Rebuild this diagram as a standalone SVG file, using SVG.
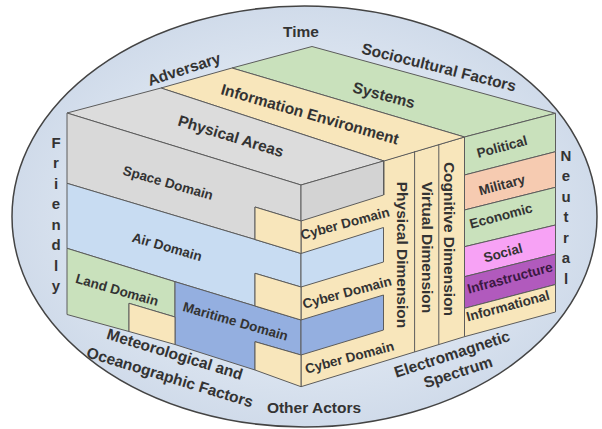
<svg xmlns="http://www.w3.org/2000/svg" width="602" height="429" viewBox="0 0 602 429">
<defs>
<radialGradient id="ringfill" cx="50%" cy="50%" r="50%">
<stop offset="0.55" stop-color="#e1e9f3"/>
<stop offset="1" stop-color="#d0dbea"/>
</radialGradient>
</defs>
<style>
.f{stroke:#5c5c5c;stroke-width:1;stroke-linejoin:round}
.gray{fill:#d9d9d9}.grayt{fill:#dcdcdc}.grays{fill:#d3d3d3}
.yel{fill:#f8e6bb}.grn{fill:#c9e1bc}.air{fill:#c8dcf2}.mar{fill:#94afe0}
.mil{fill:#f6cbb1}.soc{fill:#f7a2f5}.inf{fill:#b15abd}
text{font-family:"Liberation Sans",Arial,Helvetica,sans-serif;font-weight:bold;fill:#333;text-anchor:middle;dominant-baseline:central}
.r{font-size:15.5px}.d{font-size:13.5px}.dim{font-size:15.5px}.lt{font-size:15px}
</style>
<rect width="602" height="429" fill="#ffffff"/>
<g id="operational-environment">
<ellipse cx="304.5" cy="216.5" rx="292.5" ry="210.5" fill="url(#ringfill)" stroke="#444" stroke-width="1.5"/>
<text class="r" x="301" y="31">Time</text>
<text class="r" transform="translate(184,69) rotate(-18)">Adversary</text>
<text class="r" transform="translate(439,67) rotate(14)">Sociocultural Factors</text>
<text class="r" transform="translate(175,354) rotate(17)">Meteorological and</text>
<text class="r" transform="translate(170,377) rotate(17)">Oceanographic Factors</text>
<text class="r" x="314" y="407">Other Actors</text>
<text class="r" transform="translate(452,354) rotate(-18)">Electromagnetic</text>
<text class="r" transform="translate(458,372) rotate(-18)">Spectrum</text>
</g>
<g id="friendly">
<text class="lt" x="56" y="142">F</text><text class="lt" x="56" y="162.5">r</text><text class="lt" x="56" y="183">i</text><text class="lt" x="56" y="203.5">e</text><text class="lt" x="56" y="224">n</text><text class="lt" x="56" y="244.5">d</text><text class="lt" x="56" y="265">l</text><text class="lt" x="56" y="285.5">y</text>
</g>
<g id="neutral">
<text class="lt" x="566" y="155">N</text><text class="lt" x="566" y="175.5">e</text><text class="lt" x="566" y="196">u</text><text class="lt" x="566" y="216.5">t</text><text class="lt" x="566" y="237">r</text><text class="lt" x="566" y="257.5">a</text><text class="lt" x="566" y="278">l</text>
</g>
<g id="dimensions">
<polygon class="f yel" points="301,185 464.5,137 464.5,336.7 301,386.7"/>
<text class="dim" transform="translate(402.5,255) rotate(90)">Physical Dimension</text>
<text class="dim" transform="translate(427.5,247.5) rotate(90)">Virtual Dimension</text>
<text class="dim" transform="translate(449.5,239) rotate(90)">Cognitive Dimension</text>
</g>
<g id="top-faces">
<polygon class="f grn" points="232,68 312,46.5 555.5,113.3 464.5,137"/>
<polygon class="f yel" points="161,88 232,68 464.5,137 384,161"/>
<polygon class="f grayt" points="67,113 161,88 384,161 301,185"/>
<text class="r" transform="translate(384,95) rotate(15)">Systems</text>
<text class="r" transform="translate(310,114) rotate(16)">Information Environment</text>
<text class="r" transform="translate(231,136) rotate(17)">Physical Areas</text>
</g>
<g id="space-domain">
<polygon class="f gray" points="67,113 301,185 301,221 255,207 255,239.5 67,183.3"/>
<polygon class="f grays" points="301,185 383.5,161 383.5,195 301,221"/>
<text class="d" transform="translate(168,183) rotate(16)">Space Domain</text>
</g>
<g id="air-domain">
<polygon class="f air" points="67,183.3 255,239.5 301,253.5 301,287 255,273.3 255,306 175,281.7 67,248.3"/>
<polygon class="f air" points="301,253.5 383.5,227.5 383.5,262 301,287"/>
<text class="d" transform="translate(167,247) rotate(16)">Air Domain</text>
</g>
<g id="land-domain">
<polygon class="f grn" points="67,248.3 175,281.7 175,317 129,303.3 129,331.5 67,314.5"/>
<text class="d" transform="translate(117,290) rotate(16)">Land Domain</text>
</g>
<g id="maritime-domain">
<polygon class="f mar" points="175,281.7 301,320 301,355 255,341.7 255,370 175,344.5"/>
<polygon class="f mar" points="301,320 383.5,295 383.5,330 301,355"/>
<text class="d" transform="translate(235.5,321.5) rotate(16)">Maritime Domain</text>
</g>
<g id="cyber-domain">
<polygon class="f yel" points="255,207 301,221 301,253.5 255,239.5"/>
<polygon class="f yel" points="255,273.3 301,287 301,320 255,306"/>
<polygon class="f yel" points="129,303.3 175,317 175,344.5 129,331.5"/>
<polygon class="f yel" points="255,341.7 301,355 301,386.7 255,370"/>
<text class="d" transform="translate(345,223.5) rotate(-15)">Cyber Domain</text>
<text class="d" transform="translate(347,292.5) rotate(-15)">Cyber Domain</text>
<text class="d" transform="translate(349.5,357.5) rotate(-15)">Cyber Domain</text>
</g>
<g id="pmesii">
<polygon class="f grn" points="464.5,137 555.5,113.3 555.5,151.7 464.5,175"/>
<polygon class="f mil" points="464.5,175 555.5,151.7 555.5,187.3 464.5,210"/>
<polygon class="f grn" points="464.5,210 555.5,187.3 555.5,225 464.5,246.7"/>
<polygon class="f soc" points="464.5,246.7 555.5,225 555.5,254 464.5,276.7"/>
<polygon class="f inf" points="464.5,276.7 555.5,254 555.5,284.5 464.5,308.3"/>
<polygon class="f yel" points="464.5,308.3 555.5,284.5 555.5,312 464.5,336.7"/>
<text class="d" transform="translate(502,147) rotate(-15)">Political</text>
<text class="d" transform="translate(502,185) rotate(-15)">Military</text>
<text class="d" transform="translate(501,216) rotate(-15)">Economic</text>
<text class="d" transform="translate(503,253) rotate(-15)">Social</text>
<text class="d" transform="translate(510,278) rotate(-15)" style="fill:#3a1842">Infrastructure</text>
<text class="d" transform="translate(508,306) rotate(-15)">Informational</text>
</g>
<g id="connectors" stroke="#5c5c5c" stroke-width="1">
<line x1="414.6" y1="151.3" x2="414.6" y2="352"/>
<line x1="438.8" y1="144.3" x2="438.8" y2="344.6"/>
<line x1="384" y1="161" x2="384" y2="195"/>
</g>
</svg>
